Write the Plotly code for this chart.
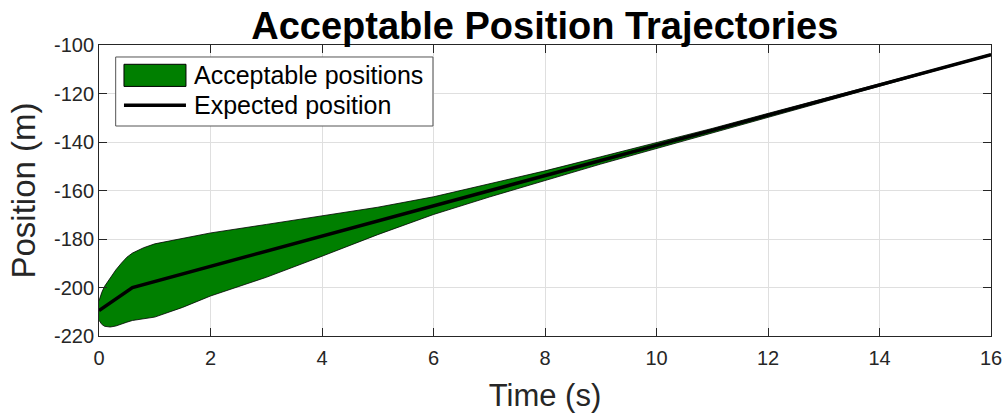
import plotly.graph_objects as go

# ---- data ----
time_band = [0, 0.05, 0.1, 0.2, 0.3, 0.4, 0.5, 0.6, 0.8, 1.0, 1.5, 2, 3, 4, 5, 6,
             7, 8, 9, 10, 11, 12, 13, 14, 15, 16]
upper_pos = [-205.5, -202.0, -199.5, -196.0, -192.8, -190.0, -187.5, -185.8, -183.6,
             -182.0, -179.6, -177.5, -174.0, -170.5, -166.9, -162.6, -157.4, -151.9,
             -146.1, -140.3, -134.4, -128.2, -122.2, -116.1, -109.9, -103.7]
lower_pos = [-213.5, -215.2, -216.0, -216.3, -215.9, -215.2, -214.3, -213.6, -212.9,
             -212.2, -208.2, -203.5, -195.8, -187.1, -178.2, -169.9, -162.7, -155.9,
             -149.1, -142.5, -136.1, -129.6, -123.3, -117.0, -110.6, -104.3]
time_expected = [0, 0.6, 16]
pos_expected = [-209.5, -200.0, -104.0]

x_ticks = [0, 2, 4, 6, 8, 10, 12, 14, 16]
y_ticks = [-220, -200, -180, -160, -140, -120, -100]
y_tick_labels = ["-220", "-200", "-180", "-160", "-140", "-120", "-100"]

title_text = "Acceptable Position Trajectories"
x_label = "Time (s)"
y_label = "Position (m)"
legend_labels = ["Acceptable positions", "Expected position"]

FONT = "Liberation Sans, Arial, Helvetica, sans-serif"
AX = "#262626"
GREEN = "#007f00"

fig = go.Figure()
fig.add_trace(go.Scatter(
    x=time_band + time_band[::-1],
    y=upper_pos + lower_pos[::-1],
    fill="toself", fillcolor=GREEN, mode="lines",
    line=dict(color="#000000", width=0.8),
    name=legend_labels[0], showlegend=False, hoverinfo="skip"))
fig.add_trace(go.Scatter(
    x=time_expected, y=pos_expected, mode="lines",
    line=dict(color="#000000", width=3.5),
    name=legend_labels[1], showlegend=False))

axis_common = dict(
    showline=True, linecolor=AX, linewidth=1, mirror="ticks",
    ticks="inside", ticklen=8, tickwidth=1, tickcolor=AX,
    showgrid=True, gridcolor="#dfdfdf", gridwidth=1, zeroline=False,
    tickfont=dict(family=FONT, size=20, color=AX), automargin=False,
)

fig.update_xaxes(range=[0, 16], tickvals=x_ticks, ticklabelstandoff=4,
                 title=dict(text=x_label, font=dict(family=FONT, size=31, color=AX), standoff=16),
                 **axis_common)
fig.update_yaxes(range=[-220, -100], tickvals=y_ticks, ticktext=y_tick_labels,
                 title=dict(text=y_label, font=dict(family=FONT, size=33, color=AX), standoff=8),
                 **axis_common)

# manual MATLAB-style legend
shapes = [
    dict(type="rect", xref="paper", yref="paper", x0=0.0187, x1=0.3744, y0=0.7216, y1=0.9588,
         fillcolor="white", line=dict(color="#555555", width=1), layer="above"),
    dict(type="rect", xref="paper", yref="paper", x0=0.028, x1=0.0975, y0=0.8577, y1=0.9337,
         fillcolor=GREEN, line=dict(color="#000000", width=1), layer="above"),
    dict(type="line", xref="paper", yref="paper", x0=0.028, x1=0.0975, y0=0.7928, y1=0.7928,
         line=dict(color="#000000", width=3.5), layer="above"),
]
annotations = [
    dict(text=legend_labels[0], xref="paper", yref="paper", x=0.1037, y=0.8969,
         xanchor="left", yanchor="middle", showarrow=False,
         font=dict(family=FONT, size=25, color="#000000")),
    dict(text=legend_labels[1], xref="paper", yref="paper", x=0.1037, y=0.7938,
         xanchor="left", yanchor="middle", showarrow=False,
         font=dict(family=FONT, size=25, color="#000000")),
]

fig.update_layout(
    width=1006, height=417,
    margin=dict(l=99, r=15, t=45, b=81),
    paper_bgcolor="white", plot_bgcolor="white",
    title=dict(text="<b>" + title_text + "</b>", x=0.5415, xanchor="center",
               y=0.938, yanchor="middle",
               font=dict(family=FONT, size=38, color="#000000")),
    shapes=shapes, annotations=annotations,
    showlegend=False,
)

fig.write_html("out.html")
